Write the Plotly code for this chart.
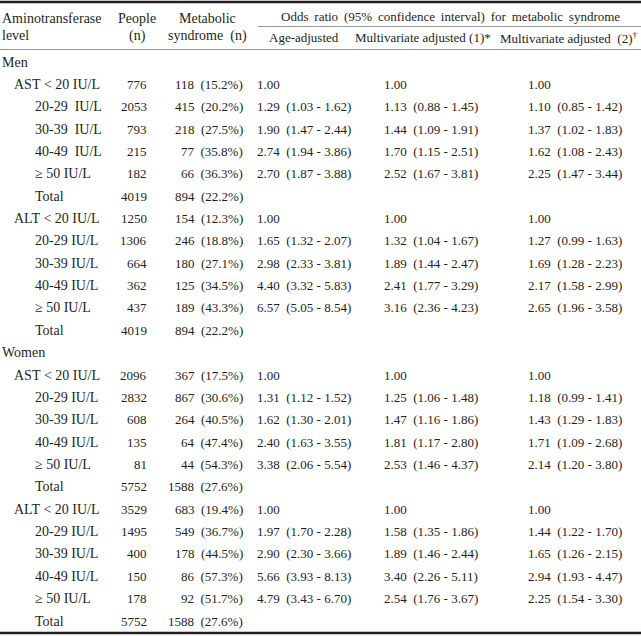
import plotly.graph_objects as go

# ---------------- data ----------------
labels = ["Men", "AST < 20 IU/L", "20-29  IU/L", "30-39  IU/L", "40-49  IU/L", "≥ 50 IU/L", "Total",
          "ALT < 20 IU/L", "20-29 IU/L", "30-39 IU/L", "40-49 IU/L", "≥ 50 IU/L", "Total",
          "Women", "AST < 20 IU/L", "20-29 IU/L", "30-39 IU/L", "40-49 IU/L", "≥ 50 IU/L", "Total",
          "ALT < 20 IU/L", "20-29 IU/L", "30-39 IU/L", "40-49 IU/L", "≥ 50 IU/L", "Total"]
indent = [0, 1, 2, 2, 2, 2, 2, 1, 2, 2, 2, 2, 2,
          0, 1, 2, 2, 2, 2, 2, 1, 2, 2, 2, 2, 2]
people = [None, 776, 2053, 793, 215, 182, 4019, 1250, 1306, 664, 362, 437, 4019,
          None, 2096, 2832, 608, 135, 81, 5752, 3529, 1495, 400, 150, 178, 5752]
mets_n = [None, 118, 415, 218, 77, 66, 894, 154, 246, 180, 125, 189, 894,
          None, 367, 867, 264, 64, 44, 1588, 683, 549, 178, 86, 92, 1588]
mets_pct = [None, 15.2, 20.2, 27.5, 35.8, 36.3, 22.2, 12.3, 18.8, 27.1, 34.5, 43.3, 22.2,
            None, 17.5, 30.6, 40.5, 47.4, 54.3, 27.6, 19.4, 36.7, 44.5, 57.3, 51.7, 27.6]
age_adj = [None, "1.00", "1.29  (1.03 - 1.62)", "1.90  (1.47 - 2.44)", "2.74  (1.94 - 3.86)", "2.70  (1.87 - 3.88)", None,
           "1.00", "1.65  (1.32 - 2.07)", "2.98  (2.33 - 3.81)", "4.40  (3.32 - 5.83)", "6.57  (5.05 - 8.54)", None,
           None, "1.00", "1.31  (1.12 - 1.52)", "1.62  (1.30 - 2.01)", "2.40  (1.63 - 3.55)", "3.38  (2.06 - 5.54)", None,
           "1.00", "1.97  (1.70 - 2.28)", "2.90  (2.30 - 3.66)", "5.66  (3.93 - 8.13)", "4.79  (3.43 - 6.70)", None]
mv1 = [None, "1.00", "1.13  (0.88 - 1.45)", "1.44  (1.09 - 1.91)", "1.70  (1.15 - 2.51)", "2.52  (1.67 - 3.81)", None,
       "1.00", "1.32  (1.04 - 1.67)", "1.89  (1.44 - 2.47)", "2.41  (1.77 - 3.29)", "3.16  (2.36 - 4.23)", None,
       None, "1.00", "1.25  (1.06 - 1.48)", "1.47  (1.16 - 1.86)", "1.81  (1.17 - 2.80)", "2.53  (1.46 - 4.37)", None,
       "1.00", "1.58  (1.35 - 1.86)", "1.89  (1.46 - 2.44)", "3.40  (2.26 - 5.11)", "2.54  (1.76 - 3.67)", None]
mv2 = [None, "1.00", "1.10  (0.85 - 1.42)", "1.37  (1.02 - 1.83)", "1.62  (1.08 - 2.43)", "2.25  (1.47 - 3.44)", None,
       "1.00", "1.27  (0.99 - 1.63)", "1.69  (1.28 - 2.23)", "2.17  (1.58 - 2.99)", "2.65  (1.96 - 3.58)", None,
       None, "1.00", "1.18  (0.99 - 1.41)", "1.43  (1.29 - 1.83)", "1.71  (1.09 - 2.68)", "2.14  (1.20 - 3.80)", None,
       "1.00", "1.44  (1.22 - 1.70)", "1.65  (1.26 - 2.15)", "2.94  (1.93 - 4.47)", "2.25  (1.54 - 3.30)", None]

header_top = ["Aminotransferase", "People", "Metabolic",
              "Odds ratio (95% confidence interval) for metabolic syndrome"]
header_bottom = ["level", "(n)", "syndrome  (n)", "Age-adjusted",
                 "Multivariate adjusted (1)*", "Multivariate adjusted  (2)<sup>†</sup>"]

# ---------------- layout geometry ----------------
W, H = 641, 636
Y0, DY = 62.0, 22.36          # pixel of first body row and row pitch


def row(py):                  # pixel -> row units on the y axis
    return (py - Y0) / DY


FAM = "Liberation Serif, Times New Roman, serif"
COL = "#231f20"
F_TXT = dict(family=FAM, size=14, color=COL)
F_NUM = dict(family=FAM, size=13, color=COL)
NB = lambda s: s.replace(" ", "\u00a0")
WIDE = lambda s: s.replace(" ", "\u00a0\u2009")

ann = []


def add(x, y, text, anchor, font, conv=NB):
    ann.append(dict(x=x, y=y, xref="x", yref="y", text=conv(text), showarrow=False,
                    xanchor=anchor, yanchor="middle", font=font, borderpad=0))


indent_x = [1, 13, 34]
for i, lab in enumerate(labels):
    add(indent_x[indent[i]], i, lab, "left", F_TXT)
    if people[i] is not None:
        add(148, i, str(people[i]), "right", F_NUM)
    if mets_n[i] is not None:
        add(244, i, f"{mets_n[i]}  ({mets_pct[i]:.1f}%)", "right", F_NUM)
    if age_adj[i]:
        add(256, i, age_adj[i], "left", F_NUM)
    if mv1[i]:
        add(383, i, mv1[i], "left", F_NUM)
    if mv2[i]:
        add(527, i, mv2[i], "left", F_NUM)

# header
add(1, row(18), header_top[0], "left", F_TXT)
add(137, row(18), header_top[1], "center", F_TXT)
add(207, row(18), header_top[2], "center", F_TXT)
add(450, row(16), header_top[3], "center", F_NUM, WIDE)
add(1, row(35.5), header_bottom[0], "left", F_TXT)
add(137, row(35.5), header_bottom[1], "center", F_TXT)
add(207, row(35.5), header_bottom[2], "center", F_TXT)
add(304, row(37.5), header_bottom[3], "center", F_NUM)
add(423, row(37.5), header_bottom[4], "center", F_NUM)
add(639, row(37.5), header_bottom[5], "right", F_NUM)

shapes = [
    dict(type="line", xref="x", yref="y", x0=0, x1=W, y0=row(2), y1=row(2), line=dict(color=COL, width=2.5)),
    dict(type="line", xref="x", yref="y", x0=258, x1=W, y0=row(26.5), y1=row(26.5), line=dict(color="#9a9a9a", width=1)),
    dict(type="line", xref="x", yref="y", x0=0, x1=W, y0=row(49.5), y1=row(49.5), line=dict(color="#9a9a9a", width=1)),
    dict(type="line", xref="x", yref="y", x0=0, x1=W, y0=row(633), y1=row(633), line=dict(color=COL, width=2.5)),
]

fig = go.Figure(go.Scatter(x=[0, W], y=[row(0), row(H)], mode="markers",
                           marker=dict(opacity=0, size=1), hoverinfo="skip", showlegend=False))
fig.update_layout(
    width=W, height=H, margin=dict(l=0, r=0, t=0, b=0, pad=0),
    paper_bgcolor="white", plot_bgcolor="white",
    xaxis=dict(range=[0, W], visible=False, fixedrange=True),
    yaxis=dict(range=[row(H), row(0)], visible=False, fixedrange=True),
    annotations=ann, shapes=shapes, showlegend=False,
)
fig.write_html("out.html", config={"displayModeBar": False},
               post_script="document.body.style.margin='0';document.body.style.overflow='hidden';")
